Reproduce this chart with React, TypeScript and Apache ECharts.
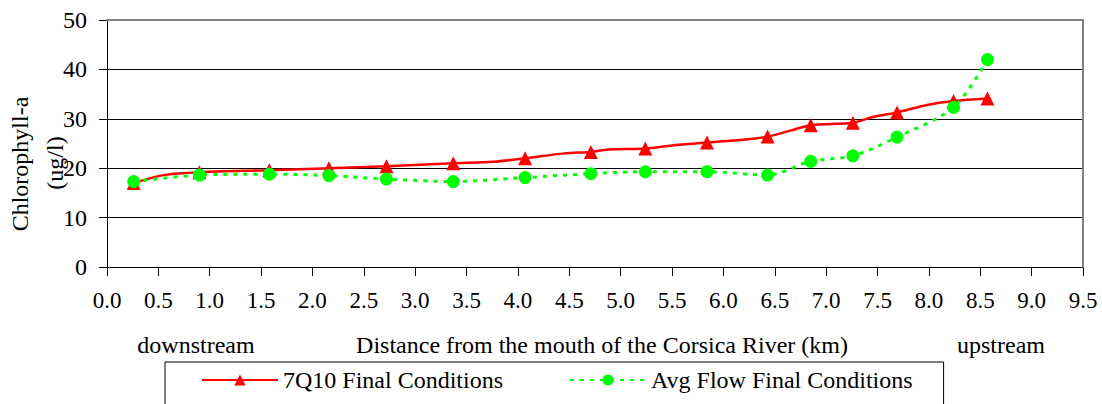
import React, { useEffect, useRef } from "react";
import * as echarts from "echarts";

// Stations (km from the mouth) where markers are drawn
const stationKm = [0.26, 0.9, 1.58, 2.16, 2.72, 3.37, 4.07, 4.71, 5.24, 5.84, 6.43, 6.85, 7.26, 7.69, 8.24, 8.57];
// 7Q10 Final Conditions at stations
const q7q10Final = [17.0, 19.2, 19.6, 20.0, 20.4, 21.0, 22.0, 23.3, 24.0, 25.2, 26.4, 28.7, 29.2, 31.3, 33.6, 34.1];
// additional model points on the 7Q10 line (no markers)
const q7q10LineKm = [0.55, 3.76, 4.45, 4.88, 5.5, 6.1, 6.65, 7.46, 7.98];
const q7q10LineVal = [18.6, 21.3, 23.0, 23.8, 24.6, 25.6, 27.6, 30.4, 32.8];
// Avg Flow Final Conditions at stations
const avgFlowFinal = [17.3, 18.6, 18.8, 18.5, 17.8, 17.3, 18.1, 18.9, 19.3, 19.3, 18.6, 21.4, 22.5, 26.3, 32.3, 42.0];

const seriesNames = ["7Q10 Final Conditions", "Avg Flow Final Conditions"];
const xTitleTexts = ["downstream", "Distance from the mouth of the Corsica River (km)", "upstream"];
const yTitleLines = ["Chlorophyll-a", "(ug/l)"];

const FONT = "Liberation Serif";

export default function App() {
  const ref = useRef<HTMLDivElement>(null);
  useEffect(() => {
    document.body.style.margin = "0";
    if (!ref.current) return;
    const chart = echarts.init(ref.current, undefined, { renderer: "svg" });

    const redPts: any[] = [];
    stationKm.forEach((x, i) => redPts.push({ value: [x, q7q10Final[i]] }));
    q7q10LineKm.forEach((x, i) => redPts.push({ value: [x, q7q10LineVal[i]], symbol: "none" }));
    redPts.sort((a, b) => a.value[0] - b.value[0]);
    const greenPts = stationKm.map((x, i) => [x, avgFlowFinal[i]]);

    const txt = (text: string, x: number, y: number, rotate = 0) => ({
      type: "text",
      x,
      y,
      rotation: rotate,
      style: {
        text,
        fontFamily: FONT,
        fontSize: 24,
        fill: "#000",
        align: "center",
        verticalAlign: "middle",
      },
    });

    chart.setOption({
      animation: false,
      backgroundColor: "#fff",
      textStyle: { fontFamily: FONT },
      grid: { left: 107, top: 20, width: 976, height: 247, containLabel: false },
      xAxis: [
        {
          type: "value",
          min: 0,
          max: 9.5,
          interval: 0.5,
          axisLine: { show: true, onZero: false, lineStyle: { color: "#000", width: 1 } },
          axisTick: { show: true, length: 9, lineStyle: { color: "#000" } },
          axisLabel: {
            margin: 22,
            color: "#000",
            fontFamily: FONT,
            fontSize: 23,
            formatter: (v: number) => v.toFixed(1),
          },
          splitLine: { show: false },
        },
        {
          type: "value",
          position: "top",
          min: 0,
          max: 9.5,
          z: 3,
          axisLine: { show: true, onZero: false, lineStyle: { color: "#808080", width: 2 } },
          axisTick: { show: false },
          axisLabel: { show: false },
          splitLine: { show: false },
        },
      ],
      yAxis: [
        {
          type: "value",
          min: 0,
          max: 50,
          interval: 10,
          axisLine: { show: true, onZero: false, lineStyle: { color: "#000", width: 1 } },
          axisTick: { show: true, length: 8, lineStyle: { color: "#000" } },
          axisLabel: { margin: 20, color: "#000", fontFamily: FONT, fontSize: 24 },
          splitLine: { show: true, lineStyle: { color: "#000", width: 1 } },
        },
        {
          type: "value",
          position: "right",
          min: 0,
          max: 50,
          z: 3,
          axisLine: { show: true, onZero: false, lineStyle: { color: "#808080", width: 2 } },
          axisTick: { show: false },
          axisLabel: { show: false },
          splitLine: { show: false },
        },
      ],
      legend: {
        left: 165,
        top: 362,
        orient: "horizontal",
        itemWidth: 76,
        itemHeight: 14,
        itemGap: 66,
        padding: [6, 31, 40, 36],
        borderColor: "#000",
        borderWidth: 1,
        backgroundColor: "#fff",
        textStyle: { fontFamily: FONT, fontSize: 24, color: "#000" },
        data: seriesNames,
      },
      series: [
        {
          name: seriesNames[0],
          type: "line",
          xAxisIndex: 0,
          yAxisIndex: 0,
          data: redPts,
          smooth: 0.3,
          symbol: "triangle",
          symbolSize: 14,
          lineStyle: { color: "#ff0000", width: 2.5 },
          itemStyle: { color: "#ff0000" },
        },
        {
          name: seriesNames[1],
          type: "line",
          xAxisIndex: 0,
          yAxisIndex: 0,
          data: greenPts,
          smooth: 0.3,
          symbol: "circle",
          symbolSize: 13,
          lineStyle: { color: "#00ff00", width: 3, type: [4, 6] },
          itemStyle: { color: "#00ff00" },
        },
      ],
      graphic: [
        txt(xTitleTexts[0], 196, 345),
        txt(xTitleTexts[1], 602, 345),
        txt(xTitleTexts[2], 1001, 345),
        txt(yTitleLines[0], 20, 164, Math.PI / 2),
        txt(yTitleLines[1], 55, 163, Math.PI / 2),
      ],
    });
    return () => chart.dispose();
  }, []);
  return <div ref={ref} style={{ width: 1102, height: 404 }} />;
}
